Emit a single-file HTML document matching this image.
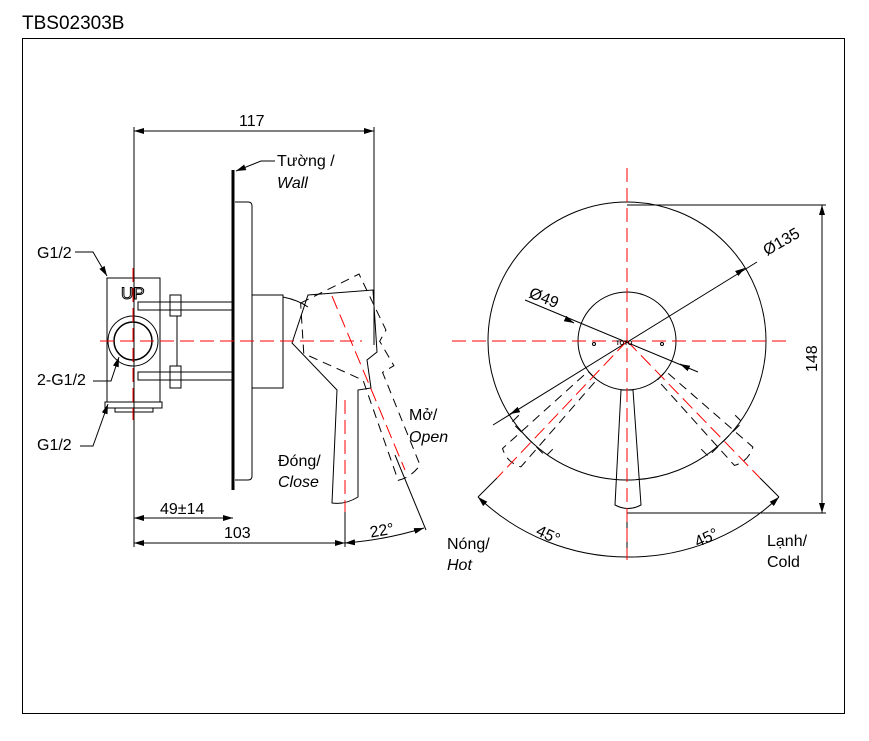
<!DOCTYPE html>
<html><head><meta charset="utf-8"><style>
body{margin:0;background:#fff}
svg{display:block;font-family:"Liberation Sans",sans-serif}
</style></head><body>
<svg width="869" height="741" viewBox="0 0 869 741" xmlns="http://www.w3.org/2000/svg">
<defs>
<marker id="a" viewBox="0 0 10 6" refX="10" refY="3" markerWidth="10" markerHeight="6" orient="auto-start-reverse" markerUnits="userSpaceOnUse"><path d="M0,0 L10,3 L0,6 Z" fill="#000"/></marker>
</defs>
<text x="22" y="29" font-size="19">TBS02303B</text>
<rect x="22.5" y="38.5" width="822" height="675" fill="none" stroke="#000" stroke-width="1"/>

<g stroke="#000" fill="none" stroke-width="1">
<line x1="134" y1="127" x2="134" y2="547"/>
<line x1="374" y1="127" x2="374" y2="345"/>
<line x1="134" y1="131" x2="374" y2="131" marker-start="url(#a)" marker-end="url(#a)"/>
<line x1="233" y1="170" x2="233" y2="490" stroke-width="3"/>
<path d="M235,202 h13 q4,0 4,4 v270 q0,4 -4,4 h-13"/>
<path d="M275,161 h-14 l-25,10" marker-end="url(#a)"/>
<rect x="107" y="278" width="53" height="124"/>
<circle cx="133" cy="341" r="25"/>
<circle cx="133" cy="341" r="19" stroke-width="1.5"/>
<rect x="105" y="402" width="57" height="6"/>
<rect x="115" y="408" width="38" height="4"/>
<rect x="138" y="302" width="95" height="8"/>
<rect x="138" y="372" width="95" height="8"/>
<rect x="170" y="295" width="11" height="21"/>
<rect x="170" y="366" width="11" height="22"/>
<line x1="177" y1="316" x2="177" y2="366"/>
<rect x="252" y="295" width="31" height="93"/>
<path d="M283,297 q15,3 25,10"/>
<path d="M308,295 L373,290 L377,352 L367,360 L371,388 L358,390 L358,497 Q345,505 332,503 L337,390 L292,343 Z"/>
<g transform="rotate(-22 325 318)" stroke-dasharray="9,6">
<path d="M308,295 L373,290 L377,352 L367,360 L371,388 L358,390 L358,490 Q345,498 332,496 L337,390 L292,343 Z"/>
</g>
<line x1="345" y1="505" x2="345" y2="547"/>
<line x1="134" y1="518" x2="233" y2="518" marker-start="url(#a)" marker-end="url(#a)"/>
<line x1="134" y1="543" x2="345" y2="543" marker-start="url(#a)" marker-end="url(#a)"/>
<path d="M345,543 Q385,540 424,528" marker-start="url(#a)" marker-end="url(#a)"/>
<line x1="395" y1="455" x2="426" y2="530"/>
<path d="M75,252 h18 l14,24" marker-end="url(#a)"/>
<path d="M93,381 h18 l8,-24" marker-end="url(#a)"/>
<path d="M80,446 h13 l15,-42" marker-end="url(#a)"/>
</g>
<text x="121" y="299" font-size="17" fill="#fff" stroke="#000" stroke-width="1">UP</text>
<g stroke="red" fill="none" stroke-width="1" stroke-dasharray="14,6">
<line x1="100" y1="341" x2="362" y2="341"/>
<line x1="133" y1="268" x2="133" y2="420"/>
<line x1="345" y1="400" x2="345" y2="512"/>
<line x1="332" y1="296" x2="405" y2="470"/>
</g>
<g font-size="16">
<text x="277" y="166">Tường /</text>
<text x="277" y="188" font-style="italic">Wall</text>
<text x="37" y="258">G1/2</text>
<text x="37" y="385">2-G1/2</text>
<text x="37" y="450">G1/2</text>
<text x="409" y="420">Mở/</text>
<text x="409" y="442" font-style="italic">Open</text>
<text x="278" y="466">Đóng/</text>
<text x="278" y="487" font-style="italic">Close</text>
<text x="239" y="126">117</text>
<text x="160" y="514">49±14</text>
<text x="224" y="538">103</text>
<text x="370" y="536" transform="rotate(-10 380 532)">22°</text>
</g>

<g stroke="#000" fill="none" stroke-width="1">
<circle cx="627" cy="341" r="139"/>
<circle cx="627" cy="341" r="49"/>
<path d="M621,390 L633,390 L641,505 Q628,512 615,505 Z"/>
<g stroke-dasharray="9,6">
<g transform="rotate(45 627 341)"><path d="M621,390 L633,390 L641,505 Q628,512 615,505 Z"/><path d="M603,470 v10 h48 v-10"/></g>
<g transform="rotate(-45 627 341)"><path d="M621,390 L633,390 L641,505 Q628,512 615,505 Z"/><path d="M603,470 v10 h48 v-10"/></g>
</g>
<line x1="627" y1="205" x2="826" y2="205"/>
<line x1="627" y1="513" x2="826" y2="513"/>
<line x1="822" y1="205" x2="822" y2="513" marker-start="url(#a)" marker-end="url(#a)"/>
<line x1="493" y1="425" x2="757" y2="262"/>
<line x1="510" y1="414" x2="516" y2="411" marker-start="url(#a)"/>
<line x1="745" y1="268" x2="739" y2="272" marker-start="url(#a)"/>
<line x1="525" y1="300" x2="698" y2="372"/>
<line x1="568" y1="320" x2="574" y2="323" marker-end="url(#a)"/>
<line x1="686" y1="367" x2="680" y2="364" marker-end="url(#a)"/>
<circle cx="594" cy="344" r="1.5"/><circle cx="662" cy="344" r="1.5"/>
<path d="M478,497 A216,216 0 0 0 627,557" marker-start="url(#a)"/>
<path d="M779,497 A216,216 0 0 1 627,557" marker-start="url(#a)"/>
<line x1="627" y1="513" x2="627" y2="560"/>
<line x1="478" y1="497" x2="497" y2="478"/>
<line x1="779" y1="497" x2="760" y2="478"/>
</g>
<g stroke="red" fill="none" stroke-width="1" stroke-dasharray="14,6">
<line x1="452" y1="341" x2="792" y2="341"/>
<line x1="627" y1="168" x2="627" y2="560"/>
<line x1="627" y1="341" x2="497" y2="478"/>
<line x1="627" y1="341" x2="760" y2="478"/>
</g>
<text x="616" y="345" font-size="6" font-weight="bold">TOTO</text>
<g font-size="16">
<text x="767" y="256" transform="rotate(-30 767 256)">Ø135</text>
<text x="528" y="297" transform="rotate(22 528 297)">Ø49</text>
<text x="817" y="372" transform="rotate(-90 817 372)">148</text>
<text x="536" y="540" transform="rotate(25 548 535)">45°</text>
<text x="694" y="543" transform="rotate(-25 706 537)">45°</text>
<text x="447" y="549">Nóng/</text>
<text x="447" y="570" font-style="italic">Hot</text>
<text x="767" y="546">Lạnh/</text>
<text x="767" y="567">Cold</text>
</g>
</svg>
</body></html>
